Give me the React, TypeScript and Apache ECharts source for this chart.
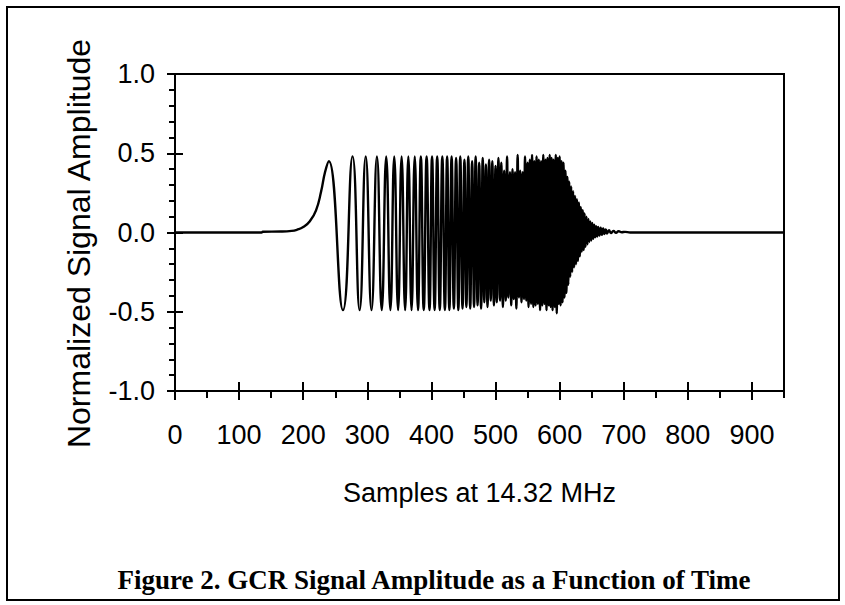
import React, { useEffect, useRef } from "react";
import * as echarts from "echarts";

// ---- data ----
const xMajorTicks = [0, 100, 200, 300, 400, 500, 600, 700, 800, 900];
const xMinorTicks = [50, 150, 250, 350, 450, 550, 650, 750, 850, 950];

const sampleIndex = [
  0, 135, 137, 165, 182, 190, 200, 210, 220, 228, 234, 240,
  262, 277, 288, 297.5, 306.5, 315, 322.5, 329.5, 336, 342, 348, 353.5, 359, 364, 369, 374, 379, 383.5, 388,
  392.5, 397, 401, 405, 409, 413, 417, 421, 424.5, 428, 431.5, 435, 438.5, 442, 445, 448.5, 451.5, 454.5,
  457.5, 460.5, 463.5, 466.5, 469, 472, 474.5, 477.5, 480, 482.5, 485, 487.5, 490, 492.5, 495, 497.5, 500,
  502, 504.5, 507, 509, 511.5, 513.5, 516, 518, 520, 522.5, 524.5, 526.5, 528.5, 530.5, 532.5, 534.5, 536.5,
  538.5, 540.5, 542.5, 544.5, 546, 548, 550, 551.5, 553.5, 555.5, 557, 559, 560.5, 562.5, 564, 566, 567.5,
  569.5, 571, 573, 574.5, 576.5, 578, 579.5, 581, 583, 584.5, 586, 587.5, 589, 590.5, 592.5, 594, 595.5, 597,
  598.5, 600, 601.5, 603, 604.5, 606, 607.5, 609, 610.5, 612, 613.5, 615, 616.5, 618, 619.5, 621, 622.5, 624,
  625.5, 627, 628.5, 630, 631.5, 633, 634.5, 636, 637.5, 639, 640.5, 642, 643.5, 645, 646.5, 648, 649.5, 651,
  652.5, 654, 655.5, 657, 658.5, 660, 662, 664, 666, 668, 670, 672, 674, 677, 680, 684, 688, 692, 697, 702,
  710, 950,
];

const amplitude = [
  0, 0, 0.005, 0.006, 0.01, 0.017, 0.034, 0.07, 0.14, 0.26, 0.38, 0.45,
  -0.49, 0.48, -0.49, 0.48, -0.49, 0.48, -0.49, 0.48, -0.49, 0.48, -0.49, 0.48, -0.49, 0.48, -0.49, 0.48, -0.49, 0.48, -0.49,
  0.48, -0.49, 0.48, -0.49, 0.48, -0.49, 0.48, -0.49, 0.48, -0.49, 0.48, -0.48, 0.47, -0.49, 0.48, -0.48, 0.46, -0.47,
  0.48, -0.48, 0.45, -0.47, 0.48, -0.46, 0.44, -0.48, 0.47, -0.44, 0.43, -0.47, 0.46, -0.43, 0.45, -0.46, 0.42,
  -0.44, 0.47, -0.43, 0.44, -0.47, 0.39, -0.43, 0.48, -0.41, 0.38, -0.46, 0.40, -0.42, 0.38, -0.48, 0.49, -0.41,
  0.39, -0.44, 0.38, -0.42, 0.48, -0.43, 0.44, -0.47, 0.46, -0.45, 0.49, -0.47, 0.45, -0.46, 0.48, -0.45, 0.46,
  -0.49, 0.45, -0.46, 0.49, -0.45, 0.46, -0.49, 0.47, -0.46, 0.49, -0.47, 0.47, -0.49, 0.46, -0.47, 0.49, -0.51, 0.47,
  -0.45, 0.48, -0.46, 0.45, -0.44, 0.44, -0.41, 0.39, -0.38, 0.35, -0.33, 0.32, -0.28, 0.29, -0.25, 0.26, -0.22, 0.23,
  -0.2, 0.21, -0.18, 0.19, -0.15, 0.16, -0.12, 0.14, -0.11, 0.12, -0.09, 0.1, -0.075, 0.085, -0.06, 0.07, -0.05, 0.06,
  -0.04, 0.05, -0.03, 0.04, -0.025, 0.035, -0.02, 0.03, -0.015, 0.025, -0.01, 0.02, -0.006, 0.015, -0.004, 0.01, -0.002, 0.008, 0.002, 0.004,
  0, 0,
];

const SANS = '"Liberation Sans", Arial, sans-serif';
const SERIF = '"Liberation Serif", "Times New Roman", serif';

export default function App() {
  const ref = useRef<HTMLDivElement>(null);

  useEffect(() => {
    if (!ref.current) return;
    const chart = echarts.init(ref.current, null, { renderer: "svg" });
    const data = sampleIndex.map((x, i) => [x, amplitude[i]]);
    const black = { color: "#000", width: 2 };

    const baseX = {
      type: "value" as const,
      min: 0,
      max: 950,
      interval: 100,
      position: "bottom" as const,
      splitLine: { show: false },
    };
    const baseY = {
      type: "value" as const,
      min: -1,
      max: 1,
      interval: 0.5,
      position: "left" as const,
      splitLine: { show: false },
    };

    chart.setOption({
      animation: false,
      backgroundColor: "#fff",
      grid: {
        left: 175,
        top: 74,
        width: 609,
        height: 317,
        show: true,
        borderColor: "#000",
        borderWidth: 2,
        backgroundColor: "transparent",
        containLabel: false,
      },
      xAxis: [
        {
          ...baseX,
          axisLine: { show: true, onZero: false, lineStyle: black },
          axisTick: { show: true, customValues: xMajorTicks, length: 9, lineStyle: black },
          axisLabel: {
            customValues: xMajorTicks,
            color: "#000",
            fontSize: 27,
            fontFamily: SANS,
            margin: 30,
          },
          name: "Samples at 14.32 MHz",
          nameLocation: "middle",
          nameGap: 88,
          nameTextStyle: { color: "#000", fontSize: 27, fontFamily: SANS },
        },
        {
          ...baseX,
          axisLine: { show: false, onZero: false },
          axisTick: { show: true, inside: true, customValues: xMajorTicks, length: 9, lineStyle: black },
          axisLabel: { show: false },
        },
        {
          ...baseX,
          axisLine: { show: false, onZero: false },
          axisTick: { show: true, customValues: xMinorTicks, length: 7, lineStyle: black },
          axisLabel: { show: false },
        },
      ],
      yAxis: [
        {
          ...baseY,
          axisLine: { show: true, onZero: false, lineStyle: black },
          axisTick: { show: true, length: 8, lineStyle: black },
          minorTick: { show: true, splitNumber: 5, length: 6, lineStyle: black },
          axisLabel: {
            formatter: (v: number) => v.toFixed(1),
            color: "#000",
            fontSize: 27,
            fontFamily: SANS,
            margin: 20,
          },
          name: "Normalized Signal Amplitude",
          nameLocation: "middle",
          nameGap: 80,
          nameTextStyle: {
            color: "#000",
            fontSize: 32,
            fontFamily: SANS,
            padding: [0, 22, 0, 0],
          },
        },
        {
          ...baseY,
          axisLine: { show: false, onZero: false },
          axisTick: { show: true, inside: true, length: 8, lineStyle: black },
          axisLabel: { show: false },
        },
      ],
      series: [
        {
          type: "line",
          xAxisIndex: 0,
          yAxisIndex: 0,
          data,
          showSymbol: false,
          smooth: 0.5,
          silent: true,
          lineStyle: { color: "#000", width: 2.4 },
        },
      ],
      graphic: [
        {
          type: "rect",
          shape: { x: 7, y: 7, width: 832, height: 593 },
          style: { fill: "none", stroke: "#000", lineWidth: 2 },
          silent: true,
        },
        {
          type: "text",
          x: 434,
          y: 580,
          style: {
            text: "Figure 2. GCR Signal Amplitude as a Function of Time",
            font: `bold 27px ${SERIF}`,
            fill: "#000",
            align: "center",
            verticalAlign: "middle",
          },
          silent: true,
        },
      ],
    });

    return () => chart.dispose();
  }, []);

  return (
    <div
      ref={ref}
      style={{ position: "fixed", left: 0, top: 0, width: 845, height: 605, background: "#fff" }}
    />
  );
}
